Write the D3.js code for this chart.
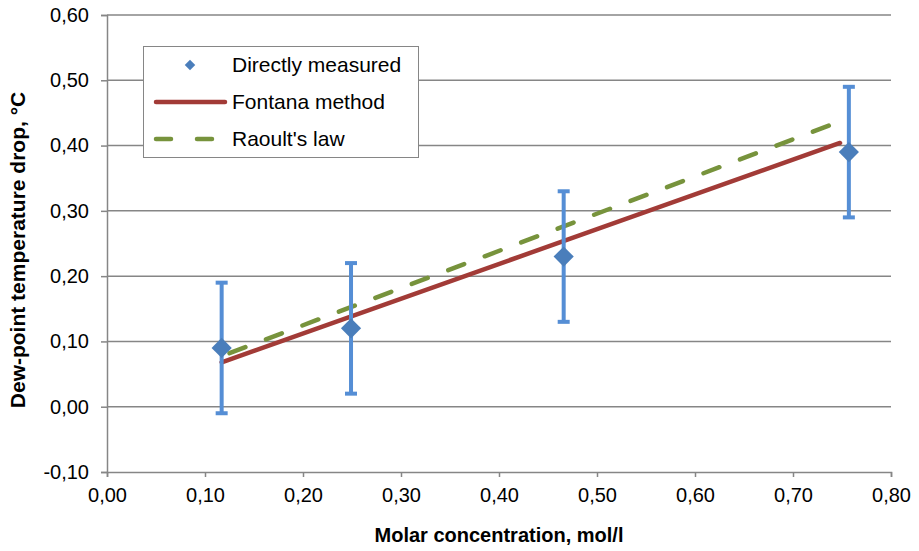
<!DOCTYPE html>
<html lang="en">
<head>
    <meta charset="utf-8">
    <title>Dew-point temperature drop</title>
    <script type="text/javascript" src="https://d3js.org/d3.v7.min.js"></script>
    <style type="text/css">
        body { margin: 0; background: #fff; }
        svg { font-family: "Liberation Sans", Arial, sans-serif; }
    </style>
</head>
<body>
<script type="text/javascript">

    // measured points with +/- error
    var measX = [0.117, 0.249, 0.466, 0.757];
    var measY = [0.09, 0.12, 0.23, 0.39];
    var measErr = [0.10, 0.10, 0.10, 0.10];

    // fitted lines
    var fontanaX = [0.117, 0.748];
    var fontanaY = [0.068, 0.404];
    var raoultX = [0.125, 0.748];
    var raoultY = [0.082, 0.437];

    var xTicks = [0, 0.1, 0.2, 0.3, 0.4, 0.5, 0.6, 0.7, 0.8];
    var yTicks = [-0.1, 0, 0.1, 0.2, 0.3, 0.4, 0.5, 0.6];

    var legendLabels = ["Directly measured", "Fontana method", "Raoult's law"];

    var width = 919, height = 551;
    var mLeft = 107, mRight = 891, mTop = 15, mBottom = 472;

    // excel style: comma decimal, plain hyphen minus
    var fmt = function(v) { return v.toFixed(2).replace(".", ","); };

    var svg = d3.select("body").append("svg")
        .attr("width", width)
        .attr("height", height);

    var x = d3.scaleLinear().domain([0, 0.8]).range([mLeft, mRight]);
    var y = d3.scaleLinear().domain([-0.1, 0.6]).range([mBottom, mTop]);

    // horizontal gridlines
    svg.append("g").selectAll("line")
        .data(yTicks.filter(function(d) { return d > -0.1; }))
        .enter().append("line")
        .attr("x1", mLeft).attr("x2", mRight)
        .attr("y1", function(d) { return y(d); })
        .attr("y2", function(d) { return y(d); })
        .attr("stroke", "#868686")
        .attr("stroke-width", 1.5);

    var yAxis = svg.append("g")
        .attr("transform", "translate(" + mLeft + ",0)")
        .call(d3.axisLeft(y).tickValues(yTicks).tickFormat(fmt).tickSize(6).tickPadding(12));
    var xAxis = svg.append("g")
        .attr("transform", "translate(0," + mBottom + ")")
        .call(d3.axisBottom(x).tickValues(xTicks).tickFormat(fmt).tickSize(5).tickPadding(11));

    [xAxis, yAxis].forEach(function(a) {
        a.select(".domain").attr("stroke", "#868686").attr("stroke-width", 1.5);
        a.selectAll("line").attr("stroke", "#868686").attr("stroke-width", 1.5);
        a.selectAll("text").attr("font-size", "20px").attr("fill", "#000")
            .attr("font-family", "Liberation Sans, Arial, sans-serif");
    });

    var line = d3.line()
        .x(function(d) { return x(d[0]); })
        .y(function(d) { return y(d[1]); });

    // Raoult's law (dashed green)
    svg.append("path")
        .datum(d3.zip(raoultX, raoultY))
        .attr("d", line)
        .attr("fill", "none")
        .attr("stroke", "#77933C")
        .attr("stroke-width", 4.5)
        .attr("stroke-linecap", "round")
        .attr("stroke-dasharray", "17,22");

    // Fontana method (red)
    svg.append("path")
        .datum(d3.zip(fontanaX, fontanaY))
        .attr("d", line)
        .attr("fill", "none")
        .attr("stroke", "#A23B37")
        .attr("stroke-width", 4.5)
        .attr("stroke-linecap", "round");

    // error bars
    var meas = d3.range(measX.length).map(function(i) {
        return { x: measX[i], y: measY[i], e: measErr[i] };
    });
    var eb = svg.append("g").selectAll("g")
        .data(meas).enter().append("g")
        .attr("stroke", "#558ED5")
        .attr("stroke-width", 4);
    eb.append("line")
        .attr("x1", function(d) { return x(d.x); })
        .attr("x2", function(d) { return x(d.x); })
        .attr("y1", function(d) { return y(d.y + d.e); })
        .attr("y2", function(d) { return y(d.y - d.e); });
    [1, -1].forEach(function(s) {
        eb.append("line")
            .attr("x1", function(d) { return x(d.x) - 6; })
            .attr("x2", function(d) { return x(d.x) + 6; })
            .attr("y1", function(d) { return y(d.y + s * d.e); })
            .attr("y2", function(d) { return y(d.y + s * d.e); });
    });

    // diamond markers
    var diamond = d3.symbol().type(d3.symbolDiamond2).size(260);
    svg.append("g").selectAll("path")
        .data(meas).enter().append("path")
        .attr("d", diamond)
        .attr("transform", function(d) { return "translate(" + x(d.x) + "," + y(d.y) + ")"; })
        .attr("fill", "#4A7EBB");

    // legend
    var lg = svg.append("g");
    lg.append("rect")
        .attr("x", 143.5).attr("y", 46.5)
        .attr("width", 275).attr("height", 111)
        .attr("fill", "#fff")
        .attr("stroke", "#868686")
        .attr("stroke-width", 1);
    var ly = [65, 102, 139];
    lg.append("path")
        .attr("d", d3.symbol().type(d3.symbolDiamond2).size(70))
        .attr("transform", "translate(190," + ly[0] + ")")
        .attr("fill", "#4A7EBB");
    lg.append("line")
        .attr("x1", 156).attr("x2", 225)
        .attr("y1", ly[1]).attr("y2", ly[1])
        .attr("stroke", "#A23B37").attr("stroke-width", 4.5)
        .attr("stroke-linecap", "round");
    lg.append("line")
        .attr("x1", 156).attr("x2", 225)
        .attr("y1", ly[2]).attr("y2", ly[2])
        .attr("stroke", "#77933C").attr("stroke-width", 4.5)
        .attr("stroke-linecap", "round")
        .attr("stroke-dasharray", "15,26");
    lg.selectAll("text")
        .data(legendLabels).enter().append("text")
        .attr("x", 232)
        .attr("y", function(d, i) { return ly[i]; })
        .attr("dy", "0.35em")
        .attr("font-size", "21px")
        .text(function(d) { return d; });

    // axis titles
    svg.append("text")
        .attr("x", (mLeft + mRight) / 2)
        .attr("y", 542)
        .attr("text-anchor", "middle")
        .attr("font-size", "20px")
        .attr("font-weight", "bold")
        .text("Molar concentration, mol/l");

    svg.append("text")
        .attr("transform", "translate(25,250) rotate(-90)")
        .attr("text-anchor", "middle")
        .attr("font-size", "21px")
        .attr("font-weight", "bold")
        .text("Dew-point temperature drop, °C");

</script>
</body>
</html>
